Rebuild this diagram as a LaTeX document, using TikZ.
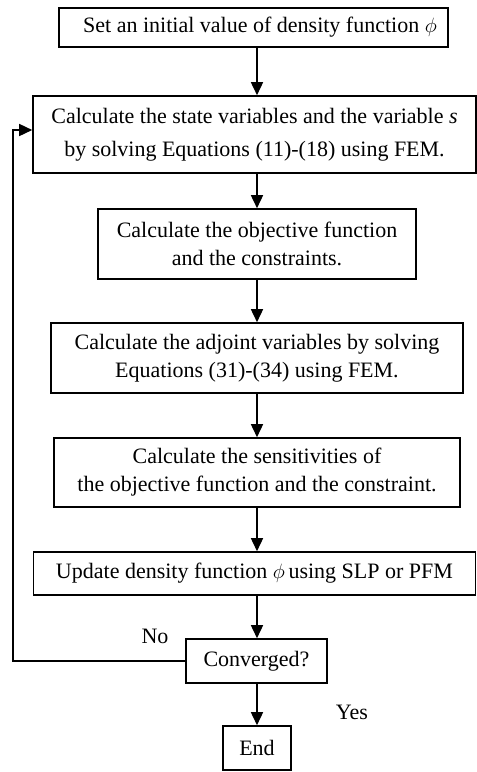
\documentclass[tikz,border=0pt]{standalone}
\usepackage{fontspec}
\setmainfont{Liberation Serif}
\usetikzlibrary{arrows.meta}
\begin{document}
\begin{tikzpicture}[x=1pt,y=-1pt,
  box/.style={draw,line width=1.6pt,inner sep=0pt,align=center,font=\fontsize{22}{28}\selectfont},
  arr/.style={line width=1.6pt,-{Triangle[length=13pt,width=12pt]}},
  lbl/.style={font=\fontsize{22}{28}\selectfont,inner sep=0pt}]
\useasboundingbox (0,0) rectangle (477,772);
\node[box,minimum width=389pt,minimum height=39pt] (b1) at (253.5,27.5) {\hspace*{13pt}Set an initial value of density function $\phi$};
\node[box,minimum width=443pt,minimum height=77pt,font=\fontsize{22}{33}\selectfont] (b2) at (254.5,134.5) {Calculate the state variables and the variable \textit{s}\\by solving Equations (11)-(18) using FEM.};
\node[box,minimum width=318pt,minimum height=70pt] (b3) at (257,244) {Calculate the objective function\\and the constraints.};
\node[box,minimum width=412pt,minimum height=70pt] (b4) at (257,358) {Calculate the adjoint variables by solving\\Equations (31)-(34) using FEM.};
\node[box,minimum width=406pt,minimum height=69pt] (b5) at (257,472.5) {Calculate the sensitivities of\\the objective function and the constraint.};
\node[box,minimum width=442pt,minimum height=43pt] (b6) at (254.5,573.5) {Update density function $\phi$\,using SLP or PFM};
\node[box,minimum width=141pt,minimum height=44pt] (cv) at (256.5,661) {Converged?};
\node[box,minimum width=68pt,minimum height=44pt] (en) at (257,748) {End};
\node[lbl] (no) at (155,636) {No};
\node[lbl] (yes) at (352,712) {Yes};
\draw[arr] (b1.south -| en) -- (b2.north -| en);
\draw[arr] (b2.south -| en) -- (b3.north -| en);
\draw[arr] (b3.south -| en) -- (b4.north -| en);
\draw[arr] (b4.south -| en) -- (b5.north -| en);
\draw[arr] (b5.south -| en) -- (b6.north -| en);
\draw[arr] (b6.south -| en) -- (cv.north -| en);
\draw[arr] (cv.south -| en) -- (en.north);
\coordinate (lp) at (13,130);
\draw[arr] (cv.west) -| (lp) -- (b2.west |- lp);
\end{tikzpicture}
\end{document}
